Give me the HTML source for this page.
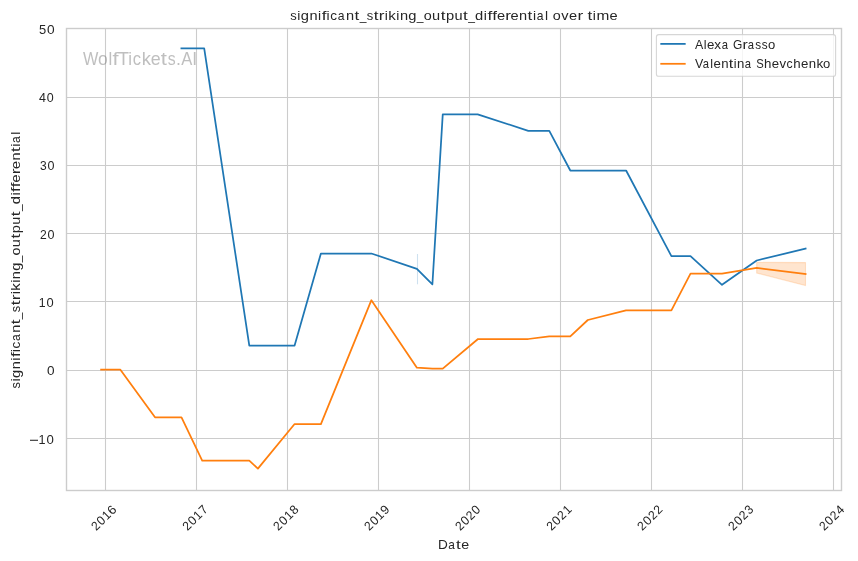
<!DOCTYPE html>
<html lang="en"><head><meta charset="utf-8"><title>significant_striking_output_differential over time</title>
<style>html,body{margin:0;padding:0;background:#fff;}body{width:858px;height:561px;overflow:hidden;}svg{display:block;will-change:transform;}text{font-family:"Liberation Sans",sans-serif;}</style>
</head><body>
<svg width="858" height="561" viewBox="0 0 858 561">
<rect x="0" y="0" width="858" height="561" fill="#ffffff"/>
<g stroke="#cccccc" stroke-width="1.1" fill="none">
<line x1="105.5" y1="28.5" x2="105.5" y2="490.5"/>
<line x1="196.5" y1="28.5" x2="196.5" y2="490.5"/>
<line x1="287.5" y1="28.5" x2="287.5" y2="490.5"/>
<line x1="378.5" y1="28.5" x2="378.5" y2="490.5"/>
<line x1="469.5" y1="28.5" x2="469.5" y2="490.5"/>
<line x1="560.5" y1="28.5" x2="560.5" y2="490.5"/>
<line x1="651.5" y1="28.5" x2="651.5" y2="490.5"/>
<line x1="742.5" y1="28.5" x2="742.5" y2="490.5"/>
<line x1="833.5" y1="28.5" x2="833.5" y2="490.5"/>
<line x1="66.5" y1="28.5" x2="841.5" y2="28.5"/>
<line x1="66.5" y1="97.5" x2="841.5" y2="97.5"/>
<line x1="66.5" y1="165.5" x2="841.5" y2="165.5"/>
<line x1="66.5" y1="233.5" x2="841.5" y2="233.5"/>
<line x1="66.5" y1="301.5" x2="841.5" y2="301.5"/>
<line x1="66.5" y1="370.5" x2="841.5" y2="370.5"/>
<line x1="66.5" y1="438.5" x2="841.5" y2="438.5"/>
</g>
<g font-size="17.6" fill="#808080" fill-opacity="0.5"><text transform="translate(82.98,65.2) scale(0.925,1)">W</text><text transform="translate(98.03,65.2) scale(0.997,1)">o</text><text transform="translate(108.38,65.2) scale(0.959,1)">l</text><text transform="translate(112.62,65.2) scale(1.232,1)">f</text><text transform="translate(117.91,65.2) scale(1.023,1)">T</text><text transform="translate(128.36,65.2) scale(0.959,1)">i</text><text transform="translate(132.73,65.2) scale(0.941,1)">c</text><text transform="translate(141.86,65.2) scale(1.049,1)">k</text><text transform="translate(150.73,65.2) scale(1.013,1)">e</text><text transform="translate(160.84,65.2) scale(1.254,1)">t</text><text transform="translate(167.66,65.2) scale(0.900,1)">s</text><text transform="translate(175.94,65.2) scale(1.015,1)">.</text><text transform="translate(181.15,65.2) scale(0.945,1)">A</text><text transform="translate(192.36,65.2) scale(0.992,1)">I</text></g>
<polygon points="756.7,262.4 805.5,262.6 805.5,285.5 756.7,273.0" fill="#ff7f0e" fill-opacity="0.2" stroke="#ff7f0e" stroke-opacity="0.2" stroke-width="1.1" stroke-linejoin="miter"/>
<line x1="417.5" y1="254" x2="417.5" y2="284.3" stroke="#1f77b4" stroke-opacity="0.22" stroke-width="1.1"/>
<polyline points="181.4,48.4 204.2,48.4 249.3,345.6 294.6,345.6 320.9,253.5 371.4,253.5 416.9,268.8 432.4,284.3 442.75,114.35 477.7,114.35 528.3,130.8 549.3,130.8 570.3,170.5 626.1,170.5 671.4,256.1 690.5,256.1 722,284.8 756.7,260.5 805.6,248.6" fill="none" stroke="#1f77b4" stroke-width="1.75" stroke-linejoin="round" stroke-linecap="square"/>
<polyline points="101.1,369.7 120.4,369.7 155,417.3 181.5,417.3 202.2,460.7 249.3,460.7 257.9,468.6 294.6,424.05 320.9,424.05 371.4,300.2 416.9,367.7 432.4,368.6 442.75,368.7 478,339 528.3,339 549.2,336.3 570.3,336.3 587.8,320 626,310.3 671.4,310.3 690.5,273.6 722,273.6 756.7,267.9 805.6,274" fill="none" stroke="#ff7f0e" stroke-width="1.75" stroke-linejoin="round" stroke-linecap="square"/>
<rect x="66.5" y="28.5" width="775.0" height="462.0" fill="none" stroke="#cccccc" stroke-width="1.39"/>
<g font-size="12.5" fill="#262626"><text transform="translate(38.88,33.85) scale(1.036,1)">5</text><text transform="translate(47.00,33.85) scale(1.098,1)">0</text></g>
<g font-size="12.5" fill="#262626"><text transform="translate(39.11,101.85) scale(0.998,1)">4</text><text transform="translate(46.65,101.85) scale(0.998,1)">0</text></g>
<g font-size="12.5" fill="#262626"><text transform="translate(40.04,169.85) scale(0.960,1)">3</text><text transform="translate(47.44,169.85) scale(1.000,1)">0</text></g>
<g font-size="12.5" fill="#262626"><text transform="translate(39.89,238.85) scale(0.969,1)">2</text><text transform="translate(47.50,238.85) scale(1.005,1)">0</text></g>
<g font-size="12.5" fill="#262626"><text transform="translate(38.76,306.85) scale(0.985,1)">1</text><text transform="translate(46.44,306.85) scale(1.031,1)">0</text></g>
<g font-size="12.5" fill="#262626"><text transform="translate(46.97,374.85) scale(1.088,1)">0</text></g>
<g font-size="12.5" fill="#262626"><text transform="translate(38.54,443.85) scale(1.007,1)">1</text><text transform="translate(46.39,443.85) scale(1.054,1)">0</text></g>
<rect x="30.0" y="439.75" width="8.0" height="1.05" fill="#262626"/>
<g transform="translate(103.60,517.65) rotate(-45)"><g font-size="12.5" fill="#262626"><text transform="translate(-14.91,4.45) scale(0.965,1)">2</text><text transform="translate(-7.32,4.45) scale(1.001,1)">0</text><text transform="translate(0.33,4.45) scale(0.956,1)">1</text><text transform="translate(7.66,4.45) scale(1.036,1)">6</text></g></g>
<g transform="translate(194.79,517.65) rotate(-45)"><g font-size="12.5" fill="#262626"><text transform="translate(-14.91,4.45) scale(0.974,1)">2</text><text transform="translate(-7.26,4.45) scale(1.011,1)">0</text><text transform="translate(0.47,4.45) scale(0.965,1)">1</text><text transform="translate(8.05,4.45) scale(0.989,1)">7</text></g></g>
<g transform="translate(285.75,517.65) rotate(-45)"><g font-size="12.5" fill="#262626"><text transform="translate(-14.91,4.45) scale(0.967,1)">2</text><text transform="translate(-7.31,4.45) scale(1.004,1)">0</text><text transform="translate(0.37,4.45) scale(0.958,1)">1</text><text transform="translate(7.80,4.45) scale(1.014,1)">8</text></g></g>
<g transform="translate(376.68,517.65) rotate(-45)"><g font-size="12.5" fill="#262626"><text transform="translate(-14.91,4.45) scale(0.968,1)">2</text><text transform="translate(-7.30,4.45) scale(1.004,1)">0</text><text transform="translate(0.38,4.45) scale(0.959,1)">1</text><text transform="translate(7.70,4.45) scale(1.037,1)">9</text></g></g>
<g transform="translate(467.62,517.65) rotate(-45)"><g font-size="12.5" fill="#262626"><text transform="translate(-14.91,4.45) scale(0.967,1)">2</text><text transform="translate(-7.31,4.45) scale(1.003,1)">0</text><text transform="translate(0.22,4.45) scale(0.967,1)">2</text><text transform="translate(7.82,4.45) scale(1.003,1)">0</text></g></g>
<g transform="translate(558.82,517.65) rotate(-45)"><g font-size="12.5" fill="#262626"><text transform="translate(-14.91,4.45) scale(0.977,1)">2</text><text transform="translate(-7.24,4.45) scale(1.014,1)">0</text><text transform="translate(0.38,4.45) scale(0.977,1)">2</text><text transform="translate(8.16,4.45) scale(0.968,1)">1</text></g></g>
<g transform="translate(649.75,517.65) rotate(-45)"><g font-size="12.5" fill="#262626"><text transform="translate(-14.92,4.45) scale(0.980,1)">2</text><text transform="translate(-7.21,4.45) scale(1.017,1)">0</text><text transform="translate(0.43,4.45) scale(0.980,1)">2</text><text transform="translate(8.10,4.45) scale(0.980,1)">2</text></g></g>
<g transform="translate(740.70,517.65) rotate(-45)"><g font-size="12.5" fill="#262626"><text transform="translate(-14.91,4.45) scale(0.972,1)">2</text><text transform="translate(-7.27,4.45) scale(1.008,1)">0</text><text transform="translate(0.31,4.45) scale(0.972,1)">2</text><text transform="translate(8.10,4.45) scale(0.969,1)">3</text></g></g>
<g transform="translate(831.65,517.65) rotate(-45)"><g font-size="12.5" fill="#262626"><text transform="translate(-14.91,4.45) scale(0.962,1)">2</text><text transform="translate(-7.34,4.45) scale(0.998,1)">0</text><text transform="translate(0.16,4.45) scale(0.962,1)">2</text><text transform="translate(7.72,4.45) scale(0.999,1)">4</text></g></g>
<g font-size="13.2" fill="#262626"><text transform="translate(437.88,548.9) scale(1.033,1)">D</text><text transform="translate(448.13,548.9) scale(0.900,1)">a</text><text transform="translate(456.08,548.9) scale(1.300,1)">t</text><text transform="translate(461.22,548.9) scale(1.078,1)">e</text></g>
<g transform="translate(20,388.1) rotate(-90)"><g font-size="13.2" fill="#262626"><text transform="translate(-0.36,0) scale(0.978,1)">s</text><text transform="translate(6.64,0) scale(1.043,1)">i</text><text transform="translate(10.16,0) scale(1.109,1)">g</text><text transform="translate(18.84,0) scale(1.100,1)">n</text><text transform="translate(27.47,0) scale(1.043,1)">i</text><text transform="translate(31.00,0) scale(1.300,1)">f</text><text transform="translate(35.96,0) scale(1.043,1)">i</text><text transform="translate(39.52,0) scale(1.024,1)">c</text><text transform="translate(47.05,0) scale(0.918,1)">a</text><text transform="translate(55.27,0) scale(1.100,1)">n</text><text transform="translate(63.76,0) scale(1.300,1)">t</text><text transform="translate(68.89,0) scale(0.910,1)">_</text><text transform="translate(75.94,0) scale(0.978,1)">s</text><text transform="translate(82.80,0) scale(1.300,1)">t</text><text transform="translate(87.97,0) scale(1.300,1)">r</text><text transform="translate(93.76,0) scale(1.043,1)">i</text><text transform="translate(97.36,0) scale(1.141,1)">k</text><text transform="translate(105.31,0) scale(1.043,1)">i</text><text transform="translate(108.96,0) scale(1.100,1)">n</text><text transform="translate(117.37,0) scale(1.109,1)">g</text><text transform="translate(125.84,0) scale(0.910,1)">_</text><text transform="translate(132.67,0) scale(1.085,1)">o</text><text transform="translate(140.97,0) scale(1.100,1)">u</text><text transform="translate(149.52,0) scale(1.300,1)">t</text><text transform="translate(154.87,0) scale(1.110,1)">p</text><text transform="translate(163.34,0) scale(1.100,1)">u</text><text transform="translate(171.89,0) scale(1.300,1)">t</text><text transform="translate(177.01,0) scale(0.910,1)">_</text><text transform="translate(183.83,0) scale(1.109,1)">d</text><text transform="translate(192.60,0) scale(1.043,1)">i</text><text transform="translate(196.13,0) scale(1.300,1)">f</text><text transform="translate(200.87,0) scale(1.300,1)">f</text><text transform="translate(205.61,0) scale(1.102,1)">e</text><text transform="translate(213.87,0) scale(1.300,1)">r</text><text transform="translate(219.14,0) scale(1.102,1)">e</text><text transform="translate(227.56,0) scale(1.100,1)">n</text><text transform="translate(236.05,0) scale(1.300,1)">t</text><text transform="translate(241.47,0) scale(1.043,1)">i</text><text transform="translate(245.16,0) scale(0.918,1)">a</text><text transform="translate(253.46,0) scale(1.043,1)">l</text></g></g>
<g font-size="13.2" fill="#262626"><text transform="translate(290.14,19.5) scale(0.982,1)">s</text><text transform="translate(297.16,19.5) scale(1.048,1)">i</text><text transform="translate(300.70,19.5) scale(1.114,1)">g</text><text transform="translate(309.42,19.5) scale(1.105,1)">n</text><text transform="translate(318.08,19.5) scale(1.048,1)">i</text><text transform="translate(321.64,19.5) scale(1.300,1)">f</text><text transform="translate(326.60,19.5) scale(1.048,1)">i</text><text transform="translate(330.18,19.5) scale(1.028,1)">c</text><text transform="translate(337.74,19.5) scale(0.921,1)">a</text><text transform="translate(346.00,19.5) scale(1.105,1)">n</text><text transform="translate(354.53,19.5) scale(1.300,1)">t</text><text transform="translate(359.66,19.5) scale(0.914,1)">_</text><text transform="translate(366.75,19.5) scale(0.982,1)">s</text><text transform="translate(373.64,19.5) scale(1.300,1)">t</text><text transform="translate(378.84,19.5) scale(1.300,1)">r</text><text transform="translate(384.64,19.5) scale(1.048,1)">i</text><text transform="translate(388.26,19.5) scale(1.146,1)">k</text><text transform="translate(396.23,19.5) scale(1.048,1)">i</text><text transform="translate(399.90,19.5) scale(1.105,1)">n</text><text transform="translate(408.34,19.5) scale(1.114,1)">g</text><text transform="translate(416.85,19.5) scale(0.914,1)">_</text><text transform="translate(423.70,19.5) scale(1.089,1)">o</text><text transform="translate(432.04,19.5) scale(1.105,1)">u</text><text transform="translate(440.63,19.5) scale(1.300,1)">t</text><text transform="translate(445.99,19.5) scale(1.115,1)">p</text><text transform="translate(454.50,19.5) scale(1.105,1)">u</text><text transform="translate(463.09,19.5) scale(1.300,1)">t</text><text transform="translate(468.23,19.5) scale(0.914,1)">_</text><text transform="translate(475.07,19.5) scale(1.114,1)">d</text><text transform="translate(483.87,19.5) scale(1.048,1)">i</text><text transform="translate(487.43,19.5) scale(1.300,1)">f</text><text transform="translate(492.19,19.5) scale(1.300,1)">f</text><text transform="translate(496.93,19.5) scale(1.107,1)">e</text><text transform="translate(505.24,19.5) scale(1.300,1)">r</text><text transform="translate(510.52,19.5) scale(1.107,1)">e</text><text transform="translate(518.97,19.5) scale(1.105,1)">n</text><text transform="translate(527.51,19.5) scale(1.300,1)">t</text><text transform="translate(532.94,19.5) scale(1.048,1)">i</text><text transform="translate(536.64,19.5) scale(0.921,1)">a</text><text transform="translate(544.98,19.5) scale(1.048,1)">l</text><text transform="translate(548.40,19.5) scale(1.172,1)"> </text><text transform="translate(552.84,19.5) scale(1.089,1)">o</text><text transform="translate(561.32,19.5) scale(1.106,1)">v</text><text transform="translate(569.10,19.5) scale(1.107,1)">e</text><text transform="translate(577.41,19.5) scale(1.300,1)">r</text><text transform="translate(582.86,19.5) scale(1.172,1)"> </text><text transform="translate(587.38,19.5) scale(1.300,1)">t</text><text transform="translate(592.81,19.5) scale(1.048,1)">i</text><text transform="translate(596.43,19.5) scale(1.168,1)">m</text><text transform="translate(609.52,19.5) scale(1.107,1)">e</text></g>
<rect x="656.4" y="34.6" width="179.2" height="41.7" rx="2.4" ry="2.4" fill="#ffffff" fill-opacity="0.8" stroke="#cccccc" stroke-opacity="0.8" stroke-width="1.1"/>
<line x1="661.2" y1="43.9" x2="684.8" y2="43.9" stroke="#1f77b4" stroke-width="1.75" stroke-linecap="square"/>
<line x1="661.2" y1="63.8" x2="684.8" y2="63.8" stroke="#ff7f0e" stroke-width="1.75" stroke-linecap="square"/>
<g font-size="12.5" fill="#262626"><text transform="translate(695.08,48.7) scale(0.990,1)">A</text><text transform="translate(703.72,48.7) scale(1.005,1)">l</text><text transform="translate(706.93,48.7) scale(1.061,1)">e</text><text transform="translate(714.36,48.7) scale(1.090,1)">x</text><text transform="translate(721.64,48.7) scale(0.900,1)">a</text><text transform="translate(728.96,48.7) scale(1.124,1)"> </text><text transform="translate(732.95,48.7) scale(0.958,1)">G</text><text transform="translate(742.45,48.7) scale(1.259,1)">r</text><text transform="translate(747.64,48.7) scale(0.900,1)">a</text><text transform="translate(755.30,48.7) scale(0.942,1)">s</text><text transform="translate(761.70,48.7) scale(0.942,1)">s</text><text transform="translate(767.89,48.7) scale(1.045,1)">o</text></g>
<g font-size="12.5" fill="#262626"><text transform="translate(695.05,67.7) scale(0.995,1)">V</text><text transform="translate(702.64,67.7) scale(0.900,1)">a</text><text transform="translate(710.26,67.7) scale(1.002,1)">l</text><text transform="translate(713.47,67.7) scale(1.059,1)">e</text><text transform="translate(721.13,67.7) scale(1.057,1)">n</text><text transform="translate(728.76,67.7) scale(1.300,1)">t</text><text transform="translate(733.79,67.7) scale(1.002,1)">i</text><text transform="translate(737.11,67.7) scale(1.057,1)">n</text><text transform="translate(744.84,67.7) scale(0.900,1)">a</text><text transform="translate(752.15,67.7) scale(1.122,1)"> </text><text transform="translate(756.25,67.7) scale(0.900,1)">S</text><text transform="translate(764.02,67.7) scale(1.065,1)">h</text><text transform="translate(771.71,67.7) scale(1.059,1)">e</text><text transform="translate(779.46,67.7) scale(1.058,1)">v</text><text transform="translate(786.55,67.7) scale(0.984,1)">c</text><text transform="translate(793.32,67.7) scale(1.065,1)">h</text><text transform="translate(801.01,67.7) scale(1.059,1)">e</text><text transform="translate(808.68,67.7) scale(1.057,1)">n</text><text transform="translate(816.40,67.7) scale(1.096,1)">k</text><text transform="translate(823.00,67.7) scale(1.042,1)">o</text></g>
</svg>
</body></html>
